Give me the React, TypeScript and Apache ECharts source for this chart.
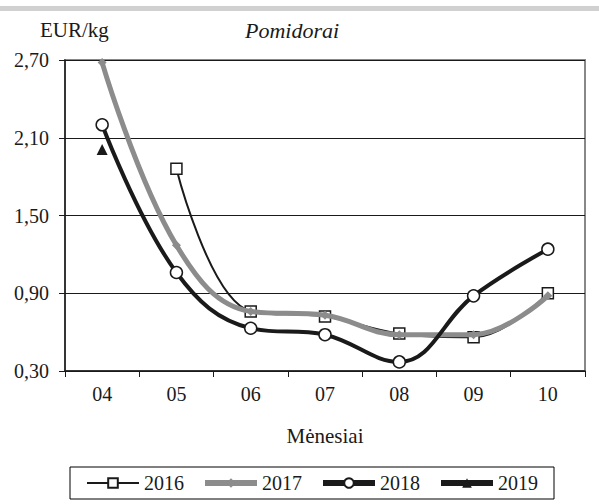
import React, { useEffect, useRef } from "react";
import * as echarts from "echarts";

const months = ["04", "05", "06", "07", "08", "09", "10"];
const y2016 = [null, 1.86, 0.76, 0.72, 0.59, 0.56, 0.9];
const y2017 = [2.68, 1.27, 0.76, 0.73, 0.58, 0.58, 0.88];
const y2018 = [2.2, 1.06, 0.63, 0.58, 0.37, 0.88, 1.24];
const y2019 = [2.01, null, null, null, null, null, null];
const yTicks = { min: 0.3, max: 2.7, step: 0.6 };

const FONT = "Liberation Serif";
const BLACK = "#1a1a1a";
const GRAY = "#8c8c8c";

export default function App() {
  const ref = useRef<HTMLDivElement>(null);
  useEffect(() => {
    const chart = echarts.init(ref.current!, null, { renderer: "svg" });
    chart.setOption({
      animation: false,
      graphic: [
        { type: "rect", left: 0, top: 6, shape: { width: 599, height: 5 }, style: { fill: "#d0d0d0" } },
        { type: "text", left: 40, top: 19, style: { text: "EUR/kg", fontFamily: FONT, fontSize: 21, fill: BLACK } },
        { type: "text", left: 245, top: 19, style: { text: "Pomidorai", fontFamily: FONT, fontStyle: "italic", fontSize: 22, fill: BLACK } },
      ],
      grid: {
        left: 65, right: 14, top: 60, bottom: 133,
        show: true, borderColor: "#888", borderWidth: 2, backgroundColor: "transparent",
      },
      legend: {
        left: 70, top: 467, width: 490,
        borderColor: "#000", borderWidth: 1, padding: [6, 16],
        itemWidth: 52, itemHeight: 12, itemGap: 18,
        textStyle: { fontFamily: FONT, fontSize: 20, color: BLACK },
        data: [
          { name: "2016", lineStyle: { width: 2 } },
          { name: "2017", lineStyle: { width: 6 } },
          { name: "2018", lineStyle: { width: 6 } },
          { name: "2019", lineStyle: { width: 6 } },
        ],
      },
      xAxis: {
        type: "category",
        data: months,
        boundaryGap: true,
        name: "Mėnesiai",
        nameLocation: "middle",
        nameGap: 54,
        nameTextStyle: { fontFamily: FONT, fontSize: 21, color: BLACK },
        axisLine: { lineStyle: { color: BLACK, width: 1.5 } },
        axisTick: { show: true, length: 6, inside: false, lineStyle: { color: BLACK } },
        axisLabel: { fontFamily: FONT, fontSize: 20, color: BLACK, margin: 13 },
      },
      yAxis: {
        type: "value",
        min: yTicks.min, max: yTicks.max, interval: yTicks.step,
        axisLine: { show: true, lineStyle: { color: BLACK, width: 1.5 } },
        axisTick: { show: true, length: 6, lineStyle: { color: BLACK } },
        axisLabel: {
          fontFamily: FONT, fontSize: 20, color: BLACK, margin: 16,
          formatter: (v: number) => v.toFixed(2).replace(".", ","),
        },
        splitLine: { show: true, lineStyle: { color: BLACK, width: 1 } },
      },
      series: [
        {
          name: "2016", type: "line", data: y2016, smooth: 0.4, connectNulls: false,
          symbol: "rect", symbolSize: 11, showAllSymbol: true,
          lineStyle: { color: BLACK, width: 2 },
          itemStyle: { color: "#fff", borderColor: BLACK, borderWidth: 1.5 },
          z: 2,
        },
        {
          name: "2017", type: "line", data: y2017, smooth: 0.4,
          symbol: "diamond", symbolSize: 9,
          lineStyle: { color: GRAY, width: 5 },
          itemStyle: { color: GRAY, borderColor: GRAY, borderWidth: 0 },
          z: 3,
        },
        {
          name: "2018", type: "line", data: y2018, smooth: 0.4,
          symbol: "circle", symbolSize: 12,
          lineStyle: { color: BLACK, width: 4 },
          itemStyle: { color: "#fff", borderColor: BLACK, borderWidth: 1.5 },
          z: 4,
        },
        {
          name: "2019", type: "line", data: y2019,
          symbol: "triangle", symbolSize: 11,
          lineStyle: { color: BLACK, width: 5 },
          itemStyle: { color: BLACK },
          z: 5,
        },
      ],
    });
    return () => chart.dispose();
  }, []);
  return <div ref={ref} style={{ width: 599, height: 504, position: "absolute", left: 0, top: 0, background: "#fff" }} />;
}
